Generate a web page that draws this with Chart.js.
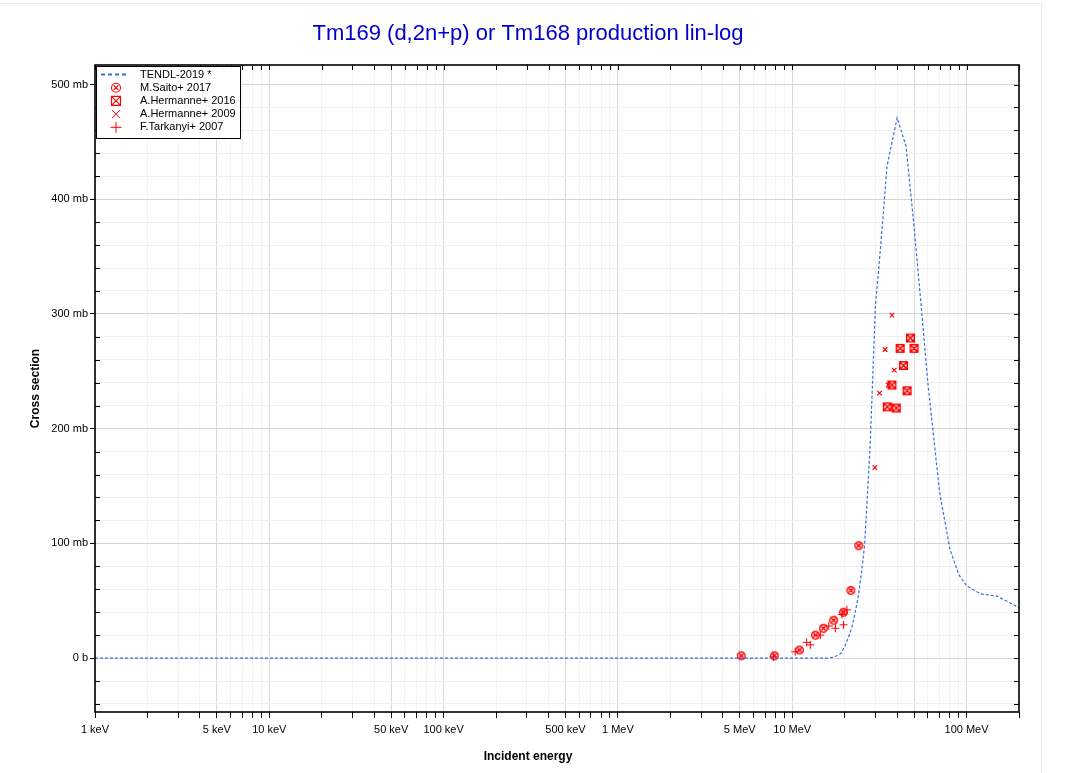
<!DOCTYPE html>
<html>
<head>
<meta charset="utf-8">
<script src="https://cdn.jsdelivr.net/npm/chart.js@4.4.0/dist/chart.umd.min.js"></script>
<style>
  html, body { margin: 0; padding: 0; background: #fff; }
  #wrap { position: relative; width: 1056px; height: 773px; }
  #edge { position: absolute; left: -2px; top: 3px; width: 1042px; height: 790px; border: 1px solid #ececec; pointer-events: none; }
  canvas { position: absolute; left: 0; top: 0; }
</style>
</head>
<body>
<div id="wrap">
  <div id="edge"></div>
  <canvas id="chart" width="1056" height="773" style="width:1056px;height:773px"></canvas>
</div>
<script>
// energies in MeV, cross sections in mb
const tendlEnergy = [0.001, 1, 16, 17, 18, 19, 20, 21, 22, 23, 24, 25, 26, 28, 30, 32, 35, 40, 45, 50, 55, 60, 70, 80, 90, 100, 120, 150, 200];
const tendlXs     = [0, 0, 0, 0.6, 2, 4, 10, 18, 27, 40, 55, 75, 98, 185, 307, 355, 429, 471, 446, 376, 306, 240, 145, 96, 73, 63, 56, 54, 44];

const saitoEnergy = [5.1, 7.9, 11.0, 13.6, 15.1, 17.3, 19.7, 21.7, 24.1];
const saitoXs     = [2, 2, 7, 20, 26, 33, 40, 59, 98];

const herm16Energy = [35.1, 37.3, 39.5, 41.6, 43.5, 45.6, 47.7, 50];
const herm16Xs     = [219, 238, 218, 270, 255, 233, 279, 270];

const herm09Energy = [29.8, 31.7, 34.1, 35.6, 37.3, 38.5];
const herm09Xs     = [166, 231, 269, 238, 299, 251];

const tarkEnergy = [7.8, 10.4, 12.1, 12.7, 14.5, 16.2, 17.7, 19.3, 19.7, 20.6];
const tarkXs     = [1, 5.5, 13.7, 11.5, 20, 28, 26, 38, 29, 42];

// axis labels
const xLabelTicks = [0.001, 0.005, 0.01, 0.05, 0.1, 0.5, 1, 5, 10, 100];
const xLabelText  = ['1 keV', '5 keV', '10 keV', '50 keV', '100 keV', '500 keV', '1 MeV', '5 MeV', '10 MeV', '100 MeV'];
const yLabelTicks = [0, 100, 200, 300, 400, 500];
const yLabelText  = ['0 b', '100 mb', '200 mb', '300 mb', '400 mb', '500 mb'];

const FONT = '"Liberation Sans", Arial, sans-serif';
const RED = '#ff0000';
const BLUE = '#3d6be0';

Chart.defaults.font.family = FONT;
Chart.defaults.color = '#000';

function pts(xs, ys) {
  return xs.map((x, i) => ({x: x, y: ys[i]}));
}

// little marker shapes, used by the datasets and the legend
function drawCircX(g, cx, cy, r, lw) {
  g.lineWidth = lw;
  g.beginPath();
  g.arc(cx, cy, r, 0, Math.PI * 2);
  const d = r * 0.55;
  g.moveTo(cx - d, cy - d); g.lineTo(cx + d, cy + d);
  g.moveTo(cx - d, cy + d); g.lineTo(cx + d, cy - d);
  g.stroke();
}
function drawBoxX(g, cx, cy, r, lw) {
  g.lineWidth = lw;
  g.beginPath();
  g.rect(cx - r, cy - r, 2 * r, 2 * r);
  g.moveTo(cx - r, cy - r); g.lineTo(cx + r, cy + r);
  g.moveTo(cx - r, cy + r); g.lineTo(cx + r, cy - r);
  g.stroke();
}
function drawX(g, cx, cy, r, lw) {
  g.lineWidth = lw;
  g.beginPath();
  g.moveTo(cx - r, cy - r); g.lineTo(cx + r, cy + r);
  g.moveTo(cx - r, cy + r); g.lineTo(cx + r, cy - r);
  g.stroke();
}
function drawPlus(g, cx, cy, r, lw) {
  g.lineWidth = lw;
  g.beginPath();
  g.moveTo(cx - r, cy); g.lineTo(cx + r, cy);
  g.moveTo(cx, cy - r); g.lineTo(cx, cy + r);
  g.stroke();
}
function marker(fn, size, r, lw) {
  const c = document.createElement('canvas');
  c.width = size; c.height = size;
  const g = c.getContext('2d');
  g.strokeStyle = RED;
  fn(g, size / 2, size / 2, r, lw);
  return c;
}
const circMark = marker(drawCircX, 11, 3.8, 1.4);
const boxMark = marker(drawBoxX, 11, 3.8, 1.5);

const legendRows = [
  {text: 'TENDL-2019 *', draw: (g, x, y) => {
    g.save(); g.strokeStyle = BLUE; g.lineWidth = 2; g.setLineDash([4, 3]);
    g.beginPath(); g.moveTo(x - 15, y); g.lineTo(x + 11, y); g.stroke(); g.restore();
  }},
  {text: 'M.Saito+ 2017', draw: (g, x, y) => drawCircX(g, x, y, 4.5, 1.1)},
  {text: 'A.Hermanne+ 2016', draw: (g, x, y) => drawBoxX(g, x, y, 4.5, 1.1)},
  {text: 'A.Hermanne+ 2009', draw: (g, x, y) => drawX(g, x, y, 4, 1)},
  {text: 'F.Tarkanyi+ 2007', draw: (g, x, y) => drawPlus(g, x, y, 5.5, 1)}
];

const boxLegend = {
  id: 'boxLegend',
  afterDraw(chart) {
    const {ctx, chartArea: a} = chart;
    const left = a.left + 1, top = a.top + 1;
    ctx.save();
    ctx.fillStyle = '#fff';
    ctx.fillRect(left, top, 144, 72);
    ctx.strokeStyle = '#000';
    ctx.lineWidth = 1;
    ctx.strokeRect(left + 0.5, top + 0.5, 144, 72);
    ctx.font = '11px ' + FONT;
    ctx.textBaseline = 'middle';
    ctx.fillStyle = '#000';
    legendRows.forEach((row, i) => {
      const y = top + 8.5 + i * 13.2;
      ctx.strokeStyle = RED;
      row.draw(ctx, left + 20, y);
      ctx.fillStyle = '#000';
      ctx.fillText(row.text, left + 44, y);
    });
    ctx.restore();
  }
};

const frameTicks = {
  id: 'frameTicks',
  afterDraw(chart) {
    const {ctx, chartArea: a, scales: {x, y}} = chart;
    ctx.save();
    ctx.strokeStyle = '#000';
    ctx.lineWidth = 1;
    ctx.beginPath();
    x.ticks.forEach(t => {
      const px = Math.round(x.getPixelForValue(t.value)) + 0.5;
      ctx.moveTo(px, a.top); ctx.lineTo(px, a.top + 5);
    });
    y.ticks.forEach(t => {
      const py = Math.round(y.getPixelForValue(t.value)) + 0.5;
      ctx.moveTo(a.right, py); ctx.lineTo(a.right - 5, py);
      if (t.value % 100 !== 0) { ctx.moveTo(a.left, py); ctx.lineTo(a.left + 5, py); }
    });
    ctx.stroke();
    ctx.lineWidth = 1.6;
    ctx.strokeRect(a.left, a.top, a.right - a.left, a.bottom - a.top);
    ctx.restore();
  }
};

function isMajorX(v) {
  const m = v / Math.pow(10, Math.floor(Math.log10(v) + 1e-9));
  return Math.abs(m - 1) < 1e-6 || Math.abs(m - 5) < 1e-6;
}

const context = document.getElementById('chart').getContext('2d');
const chart = new Chart(context, {
  data: {
    datasets: [
      {type: 'line', label: 'TENDL-2019 *', data: pts(tendlEnergy, tendlXs),
       borderColor: BLUE, borderWidth: 1.2, borderDash: [3, 2], pointRadius: 0, fill: false, tension: 0},
      {type: 'scatter', label: 'M.Saito+ 2017', data: pts(saitoEnergy, saitoXs),
       pointStyle: circMark, pointRadius: 4, borderColor: RED},
      {type: 'scatter', label: 'A.Hermanne+ 2016', data: pts(herm16Energy, herm16Xs),
       pointStyle: boxMark, pointRadius: 4, borderColor: RED},
      {type: 'scatter', label: 'A.Hermanne+ 2009', data: pts(herm09Energy, herm09Xs),
       pointStyle: 'crossRot', pointRadius: 3.2, borderWidth: 1.2, borderColor: RED, backgroundColor: RED},
      {type: 'scatter', label: 'F.Tarkanyi+ 2007', data: pts(tarkEnergy, tarkXs),
       pointStyle: 'cross', pointRadius: 4, borderWidth: 1, borderColor: RED, backgroundColor: RED}
    ]
  },
  options: {
    responsive: false,
    animation: false,
    devicePixelRatio: 1,
    layout: {padding: 0},
    plugins: {
      legend: {display: false},
      tooltip: {enabled: false},
      title: {
        display: true,
        text: 'Tm169 (d,2n+p) or Tm168 production lin-log',
        color: '#0000cc',
        font: {size: 22, weight: 'normal', family: FONT},
        padding: {top: 21, bottom: 17.6}
      },
      // x axis name, centred on the whole figure like the reference
      subtitle: {
        display: true,
        position: 'bottom',
        text: 'Incident energy',
        color: '#000',
        font: {size: 12, weight: 'bold', family: FONT},
        padding: {top: 0, bottom: 9}
      }
    },
    scales: {
      x: {
        type: 'logarithmic',
        position: 'bottom',
        min: 0.001,
        max: 200,
        border: {display: false},
        afterBuildTicks: (scale) => {
          const ticks = [];
          for (let d = -3; d <= 2; d++) {
            for (let m = 1; m <= 9; m++) {
              const v = +(m * Math.pow(10, d)).toPrecision(6);
              if (v <= 200) ticks.push({value: v});
            }
          }
          scale.ticks = ticks;
        },
        afterFit: (scale) => { scale.height = 37.6; },
        grid: {
          color: (c) => (c.tick && isMajorX(c.tick.value)) ? '#d9d9d9' : '#f2f2f2',
          tickColor: '#000',
          tickLength: 6
        },
        ticks: {
          autoSkip: false,
          maxRotation: 0,
          padding: 5,
          font: {size: 11},
          color: '#000',
          callback: (v) => {
            const i = xLabelTicks.findIndex(t => Math.abs(Math.log10(t) - Math.log10(v)) < 1e-6);
            return i >= 0 ? xLabelText[i] : '';
          }
        }
      },
      y: {
        type: 'linear',
        position: 'left',
        min: -47,
        max: 517,
        border: {display: false},
        afterBuildTicks: (scale) => {
          const ticks = [];
          for (let v = -40; v <= 500; v += 20) ticks.push({value: v});
          scale.ticks = ticks;
        },
        afterFit: (scale) => { scale.width = 95; },
        grid: {
          color: (c) => (c.tick && c.tick.value % 100 === 0) ? '#d4d4d4' : '#f0f0f0',
          tickColor: (c) => (c.tick && c.tick.value % 100 === 0) ? '#000' : 'rgba(0,0,0,0)',
          tickLength: 5
        },
        ticks: {
          padding: 2,
          font: {size: 11},
          color: '#000',
          callback: (v) => {
            const i = yLabelTicks.indexOf(v);
            return i >= 0 ? yLabelText[i] : '';
          }
        },
        title: {
          display: true,
          text: 'Cross section',
          font: {size: 12, weight: 'bold'},
          color: '#000',
          padding: {top: 28, bottom: 0}
        }
      },
      // empty strip on the right so the plot ends where the reference does
      yRight: {
        type: 'linear',
        position: 'right',
        min: -47,
        max: 517,
        border: {display: false},
        grid: {display: false, drawTicks: false},
        ticks: {display: false},
        afterFit: (scale) => { scale.width = 37; }
      }
    }
  },
  plugins: [frameTicks, boxLegend]
});
</script>
</body>
</html>
